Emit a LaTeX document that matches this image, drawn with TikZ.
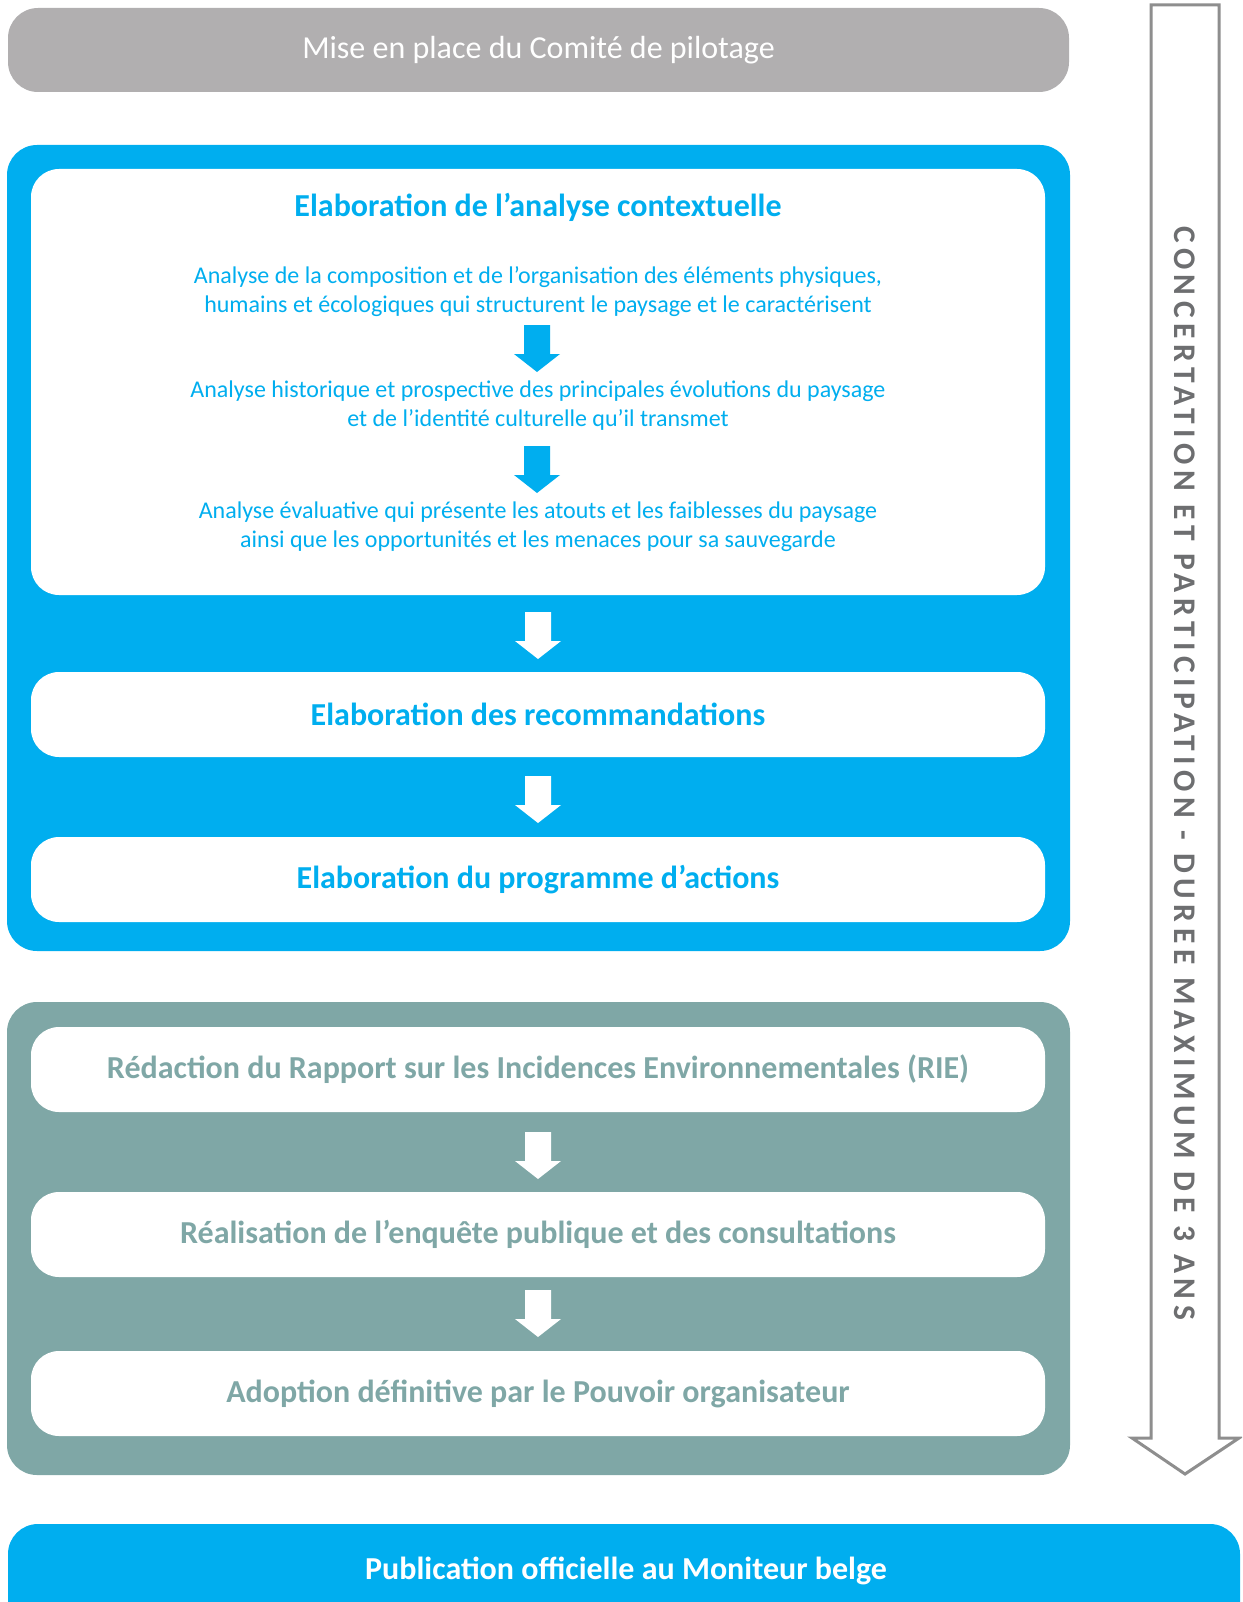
\documentclass[tikz,border=0pt]{standalone}
\usepackage{fontspec}
\setmainfont{Carlito}
\definecolor{cyanb}{HTML}{00AEEF}
\definecolor{greytop}{HTML}{B1AFB0}
\definecolor{teal}{HTML}{7FA7A6}
\definecolor{outl}{HTML}{8E8E8E}
\definecolor{vtxt}{HTML}{6D6E70}
\newcommand{\blkarrow}[3]{% color, xcenter, ytop
  \fill[#1] (#2-13,#3) -- (#2+13,#3) -- (#2+13,#3+29) -- (#2+23,#3+29) -- (#2,#3+47) -- (#2-23,#3+29) -- (#2-13,#3+29) -- cycle;}
\begin{document}
\begin{tikzpicture}[x=1pt,y=-1pt,
  box/.style={rectangle, rounded corners=28pt, fill=white, minimum width=1014pt, minimum height=85pt, inner sep=0pt},
  cont/.style={rectangle, rounded corners=30pt, inner sep=0pt},
  btitle/.style={font=\fontsize{32}{38}\selectfont\bfseries, text=cyanb},
  gtitle/.style={font=\fontsize{32}{38}\selectfont\bfseries, text=teal},
  body/.style={font=\fontsize{24}{29}\selectfont, text=cyanb, align=center}]
\useasboundingbox (0,0) rectangle (1242,1602);
\begin{scope}
\clip (0,0) rectangle (1242,1602);
% top bar
\node[cont, fill=greytop, minimum width=1061pt, minimum height=84pt, text=white, font=\fontsize{32}{38}\selectfont] (top) at (538.5,50) {Mise en place du Comité de pilotage};
% blue container
\node[cont, fill=cyanb, minimum width=1063pt, minimum height=806pt] (bluec) at (538.5,548) {};
\node[box, minimum height=426pt] (boxA) at (538,382) {};
\node[btitle] (tA) at (538,207) {Elaboration de l’analyse contextuelle};
\node[body] (l1) at (538,292) {Analyse de la composition et de l’organisation des éléments physiques,\\humains et écologiques qui structurent le paysage et le caractérisent};
\node[body] (l2) at (538,406) {Analyse historique et prospective des principales évolutions du paysage\\et de l’identité culturelle qu’il transmet};
\node[body] (l3) at (538,527) {Analyse évaluative qui présente les atouts et les faiblesses du paysage\\ainsi que les opportunités et les menaces pour sa sauvegarde};
\blkarrow{cyanb}{537}{325}
\blkarrow{cyanb}{537}{446}
\node[box] (boxB) at (538,714.5) {};
\node[btitle] at (boxB) {Elaboration des recommandations};
\node[box] (boxC) at (538,879.5) {};
\node[btitle] at (boxC) {Elaboration du programme d’actions};
\blkarrow{white}{538}{612}
\blkarrow{white}{538}{776}
% grey container
\node[cont, fill=teal, minimum width=1063pt, minimum height=473pt] (greyc) at (538.5,1238.5) {};
\node[box] (boxD) at (538,1069.5) {};
\node[gtitle] at (boxD) {Rédaction du Rapport sur les Incidences Environnementales (RIE)};
\node[box] (boxE) at (538,1234.5) {};
\node[gtitle] at (boxE) {Réalisation de l’enquête publique et des consultations};
\node[box] (boxF) at (538,1393.5) {};
\node[gtitle] at (boxF) {Adoption définitive par le Pouvoir organisateur};
\blkarrow{white}{538}{1132}
\blkarrow{white}{538}{1290}
% bottom bar
\node[cont, fill=cyanb, minimum width=1232pt, minimum height=130pt] (bot) at (624,1589) {};
\node[font=\fontsize{32}{38}\selectfont\bfseries, text=white] (botT) at (626,1571) {Publication officielle au Moniteur belge};
% right arrow
\draw[outl, line width=3pt, line join=miter] (1151,5) -- (1219,5) -- (1219,1438) -- (1239,1438) -- (1185,1474) -- (1132,1438) -- (1151,1438) -- cycle;
\node[rotate=-90, text=vtxt, font=\fontsize{31.5}{36}\selectfont\bfseries\addfontfeatures{LetterSpace=17.8}] (vt) at (1185,773) {CONCERTATION ET PARTICIPATION - DUREE MAXIMUM DE 3 ANS};
\end{scope}
\end{tikzpicture}
\end{document}
